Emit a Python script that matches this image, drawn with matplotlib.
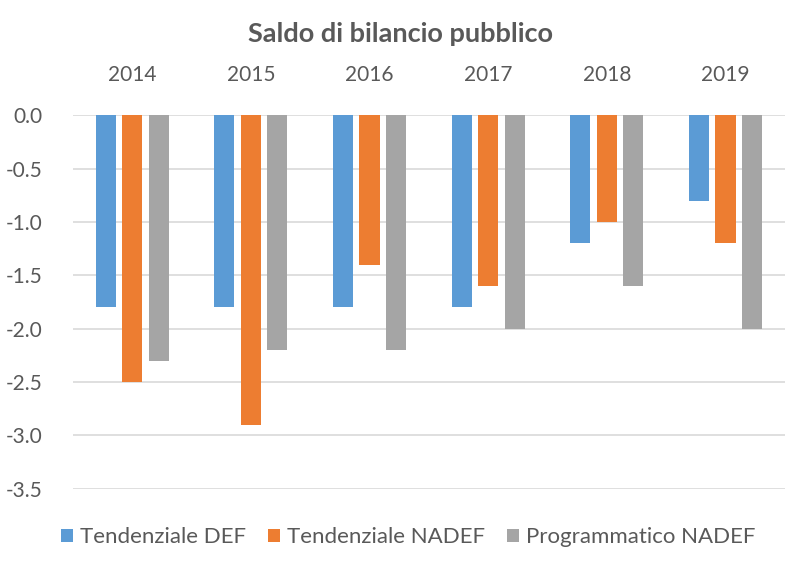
import numpy as np
import matplotlib
matplotlib.use("Agg")
import matplotlib.pyplot as plt

plt.rcParams['font.family'] = ['Lato', 'DejaVu Sans']

years = ['2014', '2015', '2016', '2017', '2018', '2019']
tend_def = [-1.8, -1.8, -1.8, -1.8, -1.2, -0.8]
tend_nadef = [-2.5, -2.9, -1.4, -1.6, -1.0, -1.2]
prog_nadef = [-2.3, -2.2, -2.2, -2.0, -1.6, -2.0]

series = [
    ('Tendenziale DEF', tend_def, '#5B9BD5'),
    ('Tendenziale NADEF', tend_nadef, '#ED7D31'),
    ('Programmatico NADEF', prog_nadef, '#A5A5A5'),
]

txt = '#595959'
fig = plt.figure(figsize=(8, 5.65), dpi=100)
ax = fig.add_axes([0.091, 0.135, 0.890, 0.661])

x = np.arange(len(years))
w = 0.17
step = 0.223
for i, (name, vals, col) in enumerate(series):
    ax.bar(x + (i - 1) * step, vals, w, color=col, label=name, zorder=3)

ax.set_xlim(-0.5, len(years) - 0.5)
ax.set_ylim(-3.5, 0)
ax.set_yticks(np.arange(-3.5, 0.01, 0.5))
ax.set_yticklabels(['%.1f' % v for v in np.arange(-3.5, 0.01, 0.5)])
ax.yaxis.grid(True, color='#D9D9D9', linewidth=1.2, zorder=0)
ax.xaxis.tick_top()
ax.set_xticks(x)
ax.set_xticklabels(years)
ax.tick_params(axis='both', length=0, labelsize=15, colors=txt)
ax.tick_params(axis='x', pad=22)
ax.tick_params(axis='y', pad=22)
for s in ax.spines.values():
    s.set_visible(False)

fig.text(0.5, 0.94, 'Saldo di bilancio pubblico', ha='center', va='center',
         fontsize=19.5, fontweight='bold', color=txt)

fig.legend(loc='center', bbox_to_anchor=(0.51, 0.049), ncol=3, frameon=False,
           fontsize=16, labelcolor=txt, handlelength=0.55, handleheight=0.55,
           handletextpad=0.3, columnspacing=1.0)

fig.savefig('out.png', dpi=100, facecolor='white')
